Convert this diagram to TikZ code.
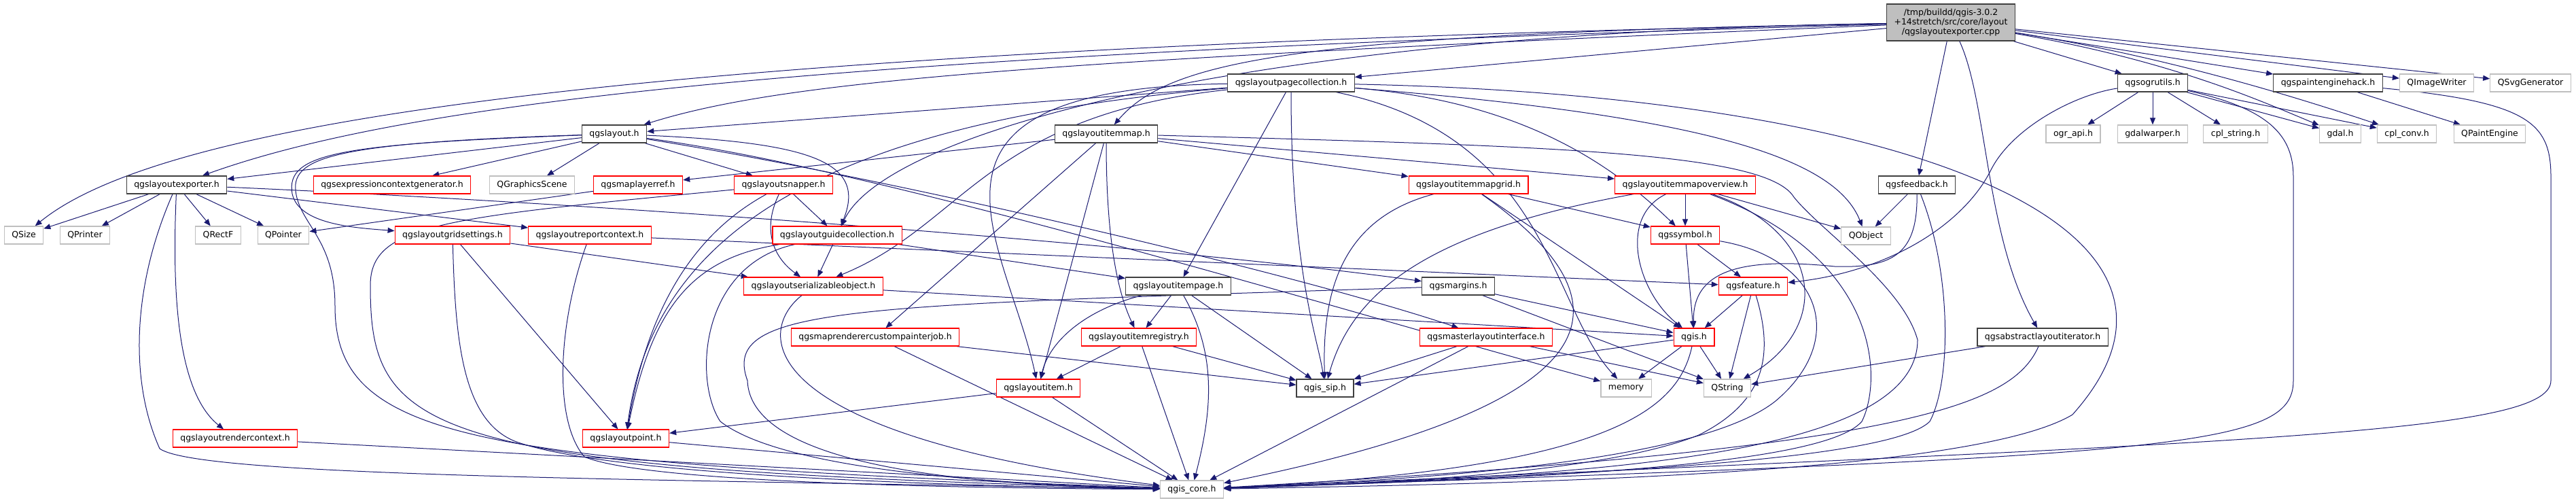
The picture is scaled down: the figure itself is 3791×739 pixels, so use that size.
\documentclass[tikz,border=0pt]{standalone}
\usepackage{fontspec}
\setmainfont{DejaVu Sans}
\usepackage{tikz}
\usetikzlibrary{arrows.meta}
\definecolor{edgeblue}{HTML}{191970}
\definecolor{docgray}{HTML}{404040}
\definecolor{extgray}{HTML}{BFBFBF}
\definecolor{srcfill}{HTML}{BFBFBF}
\pgfdeclarelayer{edges}
\pgfsetlayers{edges,main}

\begin{document}
\begin{tikzpicture}[
    x=1pt, y=1pt,
    hdr/.style={draw, fill=white, font=\fontsize{12.5}{14}\selectfont, inner xsep=11pt, inner ysep=0pt, minimum height=26pt, line width=1.2pt},
    docfile/.style={hdr, draw=docgray},
    redfile/.style={hdr, draw=red},
    extfile/.style={hdr, draw=extgray},
    srcfile/.style={hdr, fill=srcfill, draw=docgray, align=center, minimum height=54pt, inner ysep=3pt},
    dep/.style={-{Triangle[length=10pt,width=8pt]}, draw=edgeblue, line width=1pt}
]
    \useasboundingbox (0,0) rectangle (3791,-739);

    % Source file
    \node[srcfile] (root) at (2871,-33) {/tmp/buildd/qgis-3.0.2\\+14stretch/src/core/layout\\/qgslayoutexporter.cpp};

    % Row 1
    \node[docfile] (pagecoll) at (1900,-122) {qgslayoutpagecollection.h};
    \node[docfile] (ogrutils) at (3168,-122) {qgsogrutils.h};
    \node[docfile] (painthack) at (3426,-122) {qgspaintenginehack.h};
    \node[extfile] (qimagewriter) at (3586,-122) {QImageWriter};
    \node[extfile] (qsvg) at (3724,-122) {QSvgGenerator};

    % Row 2
    \node[docfile] (layout) at (904,-197) {qgslayout.h};
    \node[docfile] (itemmap) at (1628,-197) {qgslayoutitemmap.h};
    \node[extfile] (ograpi) at (3051,-197) {ogr\_api.h};
    \node[extfile] (gdalwarper) at (3168,-197) {gdalwarper.h};
    \node[extfile] (cplstring) at (3290,-197) {cpl\_string.h};
    \node[extfile] (gdal) at (3444,-197) {gdal.h};
    \node[extfile] (cplconv) at (3542,-197) {cpl\_conv.h};
    \node[extfile] (qpaintengine) at (3664,-197) {QPaintEngine};

    % Row 3
    \node[docfile] (exporter) at (260,-272) {qgslayoutexporter.h};
    \node[redfile] (exprctx) at (577,-272) {qgsexpressioncontextgenerator.h};
    \node[extfile] (gscene) at (783,-272) {QGraphicsScene};
    \node[redfile] (maplayerref) at (939,-272) {qgsmaplayerref.h};
    \node[redfile] (snapper) at (1153,-272) {qgslayoutsnapper.h};
    \node[redfile] (mapgrid) at (2161,-272) {qgslayoutitemmapgrid.h};
    \node[redfile] (mapoverview) at (2480,-272) {qgslayoutitemmapoverview.h};
    \node[docfile] (feedback) at (2821,-272) {qgsfeedback.h};

    % Row 4
    \node[extfile] (qsize) at (35,-346) {QSize};
    \node[extfile] (qprinter) at (125,-346) {QPrinter};
    \node[extfile] (qrectf) at (321,-346) {QRectF};
    \node[extfile] (qpointer) at (417,-346) {QPointer};
    \node[redfile] (gridsettings) at (666,-346) {qgslayoutgridsettings.h};
    \node[redfile] (reportctx) at (868,-346) {qgslayoutreportcontext.h};
    \node[redfile] (guidecoll) at (1232,-346) {qgslayoutguidecollection.h};
    \node[redfile] (symbol) at (2480,-346) {qgssymbol.h};
    \node[extfile] (qobject) at (2746,-347) {QObject};

    % Row 5
    \node[redfile] (serializable) at (1197,-421) {qgslayoutserializableobject.h};
    \node[docfile] (itempage) at (1734,-421) {qgslayoutitempage.h};
    \node[docfile] (margins) at (2146,-421) {qgsmargins.h};
    \node[redfile] (feature) at (2580,-421) {qgsfeature.h};

    % Row 6
    \node[redfile] (custompj) at (1288,-496) {qgsmaprenderercustompainterjob.h};
    \node[redfile] (itemreg) at (1676,-496) {qgslayoutitemregistry.h};
    \node[redfile] (masterli) at (2187,-496) {qgsmasterlayoutinterface.h};
    \node[redfile] (qgish) at (2493,-496) {qgis.h};
    \node[docfile] (absiter) at (3006,-496) {qgsabstractlayoutiterator.h};

    % Row 7
    \node[redfile] (layoutitem) at (1528,-571) {qgslayoutitem.h};
    \node[docfile] (sip) at (1950,-571) {qgis\_sip.h};
    \node[extfile] (memory) at (2393,-571) {memory};
    \node[extfile] (qstring) at (2542,-571) {QString};

    % Row 8 and 9
    \node[redfile] (rendercontext) at (346,-645) {qgslayoutrendercontext.h};
    \node[redfile] (layoutpoint) at (921,-645) {qgslayoutpoint.h};
    \node[extfile] (core) at (1754,-720) {qgis\_core.h};

    \begin{pgfonlayer}{edges}
    % Source file includes
    \draw[dep] (root) .. controls (1000,-70) and (250,-170) .. (qsize);
    \draw[dep] (root) .. controls (1200,-80) and (600,-150) .. (exporter);
    \draw[dep] (root) .. controls (1500,-90) and (1150,-120) .. (layout);
    \draw[dep] (root) -- (pagecoll);
    \draw[dep] (root) .. controls (1900,-50) and (1720,-90) .. (itemmap);
    \draw[dep] (root) .. controls (1800,-50) and (1300,-200) .. (guidecoll);
    \draw[dep] (root) -- (feedback);
    \draw[dep] (root) .. controls (2925,-150) and (2922,-350) .. (absiter);
    \draw[dep] (root) -- (ogrutils);
    \draw[dep] (root) -- (painthack);
    \draw[dep] (root) -- (qimagewriter);
    \draw[dep] (root) -- (qsvg);
    \draw[dep] (root) .. controls (3200,-90) and (3330,-150) .. (gdal);
    \draw[dep] (root) .. controls (3200,-85) and (3400,-150) .. (cplconv);

    % qgslayoutexporter.h
    \draw[dep] (exporter) -- (qsize);
    \draw[dep] (exporter) -- (qprinter);
    \draw[dep] (exporter) -- (qrectf);
    \draw[dep] (exporter) -- (qpointer);
    \draw[dep] (exporter) .. controls (252,-450) and (265,-580) .. (rendercontext);
    \draw[dep] (exporter) .. controls (195,-420) and (190,-560) .. (235,-660) .. controls (290,-700) and (900,-705) .. (core);
    \draw[dep] (exporter) .. controls (900,-300) and (1700,-360) .. (margins);
    \draw[dep] (exporter) -- (reportctx);

    % qgslayout.h
    \draw[dep] (layout) -- (exporter);
    \draw[dep] (layout) -- (exprctx);
    \draw[dep] (layout) -- (gscene);
    \draw[dep] (layout) -- (snapper);
    \draw[dep] (layout) .. controls (1200,-210) and (1275,-240) .. (guidecoll);
    \draw[dep] (layout) .. controls (500,-212) and (420,-225) .. (430,-285) .. controls (440,-330) and (520,-335) .. (gridsettings);
    \draw[dep] (layout) .. controls (500,-210) and (430,-230) .. (435,-280) .. controls (440,-330) and (493,-350) .. (493,-450) .. controls (493,-650) and (700,-680) .. (core);
    \draw[dep] (layout) .. controls (1300,-260) and (1900,-400) .. (masterli);
    \draw[dep] (layout) .. controls (1300,-250) and (1950,-450) .. (memory);

    % qgslayoutpagecollection.h
    \draw[dep] (pagecoll) -- (layout);
    \draw[dep] (pagecoll) -- (itempage);
    \draw[dep] (pagecoll) .. controls (1900,-400) and (1940,-500) .. (sip);
    \draw[dep] (pagecoll) .. controls (2800,-140) and (3300,-330) .. (3050,-610) .. controls (2900,-700) and (2200,-712) .. (core);
    \draw[dep] (pagecoll) .. controls (2280,-200) and (2280,-450) .. (memory);
    \draw[dep] (pagecoll) .. controls (2250,-150) and (2380,-250) .. (symbol);
    \draw[dep] (pagecoll) .. controls (2500,-170) and (2700,-230) .. (qobject);
    \draw[dep] (pagecoll) .. controls (1300,-130) and (1480,-350) .. (layoutitem);
    \draw[dep] (pagecoll) .. controls (1450,-170) and (1420,-330) .. (serializable);
    \draw[dep] (pagecoll) .. controls (1200,-180) and (960,-350) .. (layoutpoint);

    % qgslayoutitemmap.h
    \draw[dep] (itemmap) -- (maplayerref);
    \draw[dep] (itemmap) -- (custompj);
    \draw[dep] (itemmap) -- (layoutitem);
    \draw[dep] (itemmap) .. controls (1628,-330) and (1640,-420) .. (itemreg);
    \draw[dep] (itemmap) -- (mapgrid);
    \draw[dep] (itemmap) -- (mapoverview);
    \draw[dep] (itemmap) .. controls (2300,-215) and (2600,-225) .. (2640,-290) .. controls (2680,-340) and (2800,-420) .. (2822,-500) .. controls (2822,-680) and (2300,-700) .. (core);

    % qgslayoutitemmapgrid.h and qgslayoutitemmapoverview.h
    \draw[dep] (mapgrid) .. controls (1980,-320) and (1945,-420) .. (sip);
    \draw[dep] (mapgrid) -- (qgish);
    \draw[dep] (mapgrid) .. controls (2400,-440) and (2400,-590) .. (core);
    \draw[dep] (mapgrid) -- (symbol);
    \draw[dep] (mapoverview) .. controls (2100,-340) and (1990,-430) .. (sip);
    \draw[dep] (mapoverview) .. controls (2380,-320) and (2410,-430) .. (qgish);
    \draw[dep] (mapoverview) -- (symbol);
    \draw[dep] (mapoverview) .. controls (2680,-340) and (2700,-480) .. (qstring);
    \draw[dep] (mapoverview) .. controls (2770,-380) and (2770,-560) .. (2740,-620) .. controls (2680,-690) and (2200,-705) .. (core);
    \draw[dep] (mapoverview) -- (qobject);

    % qgssymbol.h, qgsfeature.h, qgis.h
    \draw[dep] (symbol) -- (qgish);
    \draw[dep] (symbol) -- (feature);
    \draw[dep] (symbol) .. controls (2680,-380) and (2720,-500) .. (2613,-590) .. controls (2500,-680) and (2100,-705) .. (core);
    \draw[dep] (feature) -- (qgish);
    \draw[dep] (feature) -- (qstring);
    \draw[dep] (feature) .. controls (2610,-520) and (2600,-590) .. (2500,-640) .. controls (2350,-700) and (2000,-712) .. (core);
    \draw[dep] (qgish) -- (memory);
    \draw[dep] (qgish) -- (qstring);
    \draw[dep] (qgish) .. controls (2470,-600) and (2380,-690) .. (core);
    \draw[dep] (qgish) -- (sip);

    % qgsmasterlayoutinterface.h, qgsmargins.h
    \draw[dep] (masterli) -- (sip);
    \draw[dep] (masterli) -- (qstring);
    \draw[dep] (masterli) -- (core);
    \draw[dep] (margins) -- (qgish);
    \draw[dep] (margins) -- (qstring);
    \draw[dep] (margins) .. controls (1250,-450) and (1060,-450) .. (1100,-560) .. controls (1105,-700) and (1500,-715) .. (core);

    % middle layout headers
    \draw[dep] (serializable) -- (qgish);
    \draw[dep] (serializable) .. controls (1110,-490) and (1110,-640) .. (core);
    \draw[dep] (custompj) -- (sip);
    \draw[dep] (custompj) -- (core);
    \draw[dep] (itemreg) -- (layoutitem);
    \draw[dep] (itemreg) -- (core);
    \draw[dep] (itemreg) -- (sip);
    \draw[dep] (itempage) .. controls (1600,-455) and (1545,-500) .. (layoutitem);
    \draw[dep] (itempage) -- (itemreg);
    \draw[dep] (itempage) .. controls (1790,-520) and (1785,-600) .. (core);
    \draw[dep] (itempage) -- (sip);
    \draw[dep] (layoutitem) -- (layoutpoint);
    \draw[dep] (layoutitem) -- (core);

    % left layout headers
    \draw[dep] (snapper) -- (guidecoll);
    \draw[dep] (snapper) .. controls (1120,-340) and (1140,-380) .. (serializable);
    \draw[dep] (snapper) .. controls (1010,-350) and (950,-470) .. (layoutpoint);
    \draw[dep] (snapper) .. controls (650,-320) and (545,-330) .. (545,-420) .. controls (545,-640) and (620,-690) .. (core);
    \draw[dep] (maplayerref) -- (qpointer);
    \draw[dep] (gridsettings) -- (serializable);
    \draw[dep] (gridsettings) -- (layoutpoint);
    \draw[dep] (gridsettings) .. controls (670,-500) and (680,-620) .. (760,-650) .. controls (900,-700) and (1400,-715) .. (core);
    \draw[dep] (reportctx) .. controls (820,-480) and (815,-620) .. (860,-672) .. controls (950,-710) and (1400,-718) .. (core);
    \draw[dep] (reportctx) -- (feature);
    \draw[dep] (guidecoll) -- (serializable);
    \draw[dep] (guidecoll) .. controls (1020,-380) and (960,-450) .. (layoutpoint);
    \draw[dep] (guidecoll) .. controls (1030,-390) and (1020,-560) .. (1060,-620) .. controls (1150,-690) and (1450,-712) .. (core);
    \draw[dep] (guidecoll) -- (itempage);
    \draw[dep] (rendercontext) -- (core);
    \draw[dep] (layoutpoint) -- (core);

    % right side headers
    \draw[dep] (feedback) -- (qobject);
    \draw[dep] (feedback) .. controls (2822,-370) and (2790,-395) .. (2700,-392) .. controls (2580,-380) and (2490,-390) .. (qgish);
    \draw[dep] (feedback) .. controls (2872,-400) and (2872,-560) .. (2840,-620) .. controls (2780,-680) and (2300,-700) .. (core);
    \draw[dep] (absiter) -- (qstring);
    \draw[dep] (absiter) .. controls (2960,-600) and (2800,-660) .. (core);
    \draw[dep] (ogrutils) -- (ograpi);
    \draw[dep] (ogrutils) -- (gdalwarper);
    \draw[dep] (ogrutils) -- (cplstring);
    \draw[dep] (ogrutils) -- (gdal);
    \draw[dep] (ogrutils) -- (cplconv);
    \draw[dep] (ogrutils) .. controls (3050,-140) and (2960,-190) .. (2930,-250) .. controls (2890,-330) and (2780,-400) .. (feature);
    \draw[dep] (ogrutils) .. controls (3340,-160) and (3375,-200) .. (3375,-260) -- (3375,-560) .. controls (3375,-660) and (3200,-670) .. (core);
    \draw[dep] (painthack) -- (qpaintengine);
    \draw[dep] (painthack) .. controls (3720,-150) and (3754,-180) .. (3754,-260) -- (3754,-560) .. controls (3754,-640) and (3300,-650) .. (core);
    \end{pgfonlayer}
\end{tikzpicture}
\end{document}
